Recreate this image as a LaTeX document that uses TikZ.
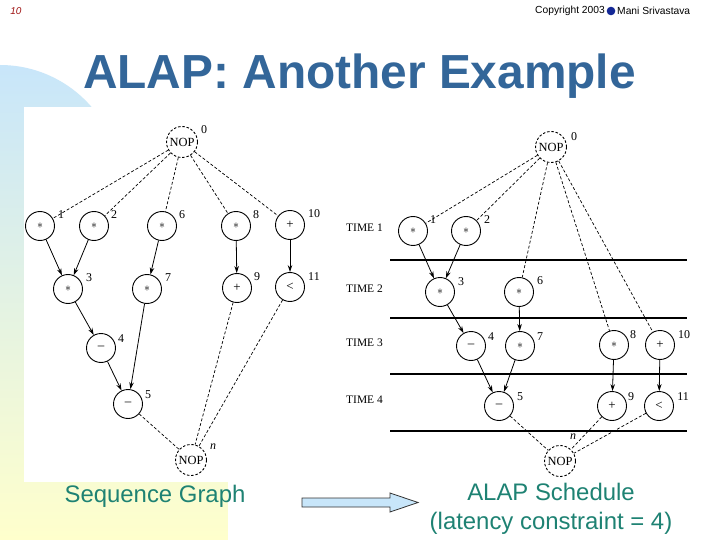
\documentclass[tikz,border=0pt]{standalone}
\usepackage{fontspec}
\setmainfont{Liberation Serif}
\newfontfamily\arialf{Liberation Sans}
\usetikzlibrary{arrows.meta}
\definecolor{titleblue}{RGB}{51,102,153}
\definecolor{seqteal}{RGB}{30,130,115}
\definecolor{bgblue}{RGB}{200,230,250}
\definecolor{bgyellow}{RGB}{255,255,204}
\definecolor{pagenum}{RGB}{160,20,20}
\definecolor{dotblue}{RGB}{20,40,150}
\definecolor{arrowfill}{RGB}{200,230,250}
\tikzset{
  opnode/.style={circle, draw, line width=0.9bp, minimum size=29bp, inner sep=0pt, font=\fontsize{13}{13}\selectfont},
  nopnode/.style={opnode, minimum size=31bp, dash pattern=on 2.5bp off 1.8bp, font=\fontsize{12.5}{12.5}\selectfont},
  numlab/.style={inner sep=0pt, font=\fontsize{12}{12}\selectfont},
  timelab/.style={inner sep=0pt, anchor=west, font=\fontsize{11.5}{11.5}\selectfont},
  dep/.style={-{Stealth[length=7bp,width=4.5bp]}, line width=0.8bp},
  dsh/.style={dash pattern=on 3bp off 2bp, line width=0.7bp},
  timeline/.style={line width=1.4bp},
}
\begin{document}
\begin{tikzpicture}[x=1bp,y=-1bp]
\useasboundingbox (0,0) rectangle (720,540);
\fill[white] (0,0) rectangle (720,540);
% background panel
\shade[top color=bgblue, bottom color=bgyellow] (0,540) -- (0,65) .. controls (66.8,65) and (121,119.2) .. (121,186) -- (228,186) -- (228,540) -- cycle;
\fill[white] (24,107) rectangle (332,482);

% header
\node[inner sep=0pt, text=pagenum, font=\arialf\itshape\fontsize{10}{10}\selectfont] (pnum) at (16,11) {10};
\node[inner sep=0pt, anchor=east, font=\arialf\fontsize{10.3}{10.3}\selectfont] (copyl) at (605,11) {Copyright 2003};
\fill[dotblue] (611,11) circle (4.3);
\node[inner sep=0pt, anchor=west, font=\arialf\fontsize{10.3}{10.3}\selectfont] (copyr) at (617,11) {Mani Srivastava};

% title
\node[inner sep=0pt, anchor=base, text=titleblue, font=\arialf\bfseries\fontsize{48}{48}\selectfont] (title) at (359.5,89) {ALAP: Another Example};

% ---------- left: sequence graph ----------
\node[nopnode] (a0) at (182,142) {NOP};
\node[opnode] (a1) at (40,226) {$\ast$};
\node[opnode] (a2) at (94,226) {$\ast$};
\node[opnode] (a6) at (162,226) {$\ast$};
\node[opnode] (a8) at (236,226) {$\ast$};
\node[opnode] (a10) at (290,225) {+};
\node[opnode] (a3) at (68,289) {$\ast$};
\node[opnode] (a7) at (147,289) {$\ast$};
\node[opnode] (a9) at (237,288) {+};
\node[opnode] (a11) at (290,287) {<};
\node[opnode] (a4) at (101,348) {--};
\node[opnode] (a5) at (128,404) {--};
\node[nopnode] (an) at (191,460) {NOP};

\node[numlab] (la0) at (204,130) {0};
\node[numlab] (la1) at (61,215) {1};
\node[numlab] (la2) at (114,215) {2};
\node[numlab] (la6) at (182,215) {6};
\node[numlab] (la8) at (256,215) {8};
\node[numlab] (la10) at (314,214) {10};
\node[numlab] (la3) at (89,278) {3};
\node[numlab] (la7) at (168,278) {7};
\node[numlab] (la9) at (257,277) {9};
\node[numlab] (la11) at (314,277) {11};
\node[numlab] (la4) at (121,339) {4};
\node[numlab] (la5) at (148,395) {5};
\node[numlab, font=\itshape\fontsize{12}{12}\selectfont] (lan) at (213,447) {n};

\foreach \t in {a1,a2,a6,a8,a10} \draw[dsh] (a0) -- (\t);
\draw[dep] (a1) -- (a3);
\draw[dep] (a2) -- (a3);
\draw[dep] (a6) -- (a7);
\draw[dep] (a8) -- (a9);
\draw[dep] (a10) -- (a11);
\draw[dep] (a3) -- (a4);
\draw[dep] (a4) -- (a5);
\draw[dep] (a7) -- (a5);
\foreach \t in {a5,a9,a11} \draw[dsh] (\t) -- (an);

% ---------- right: ALAP schedule ----------
\draw[timeline] (390,260) -- (687,260);
\draw[timeline] (390,318) -- (687,318);
\draw[timeline] (390,374) -- (687,374);
\draw[timeline] (390,431) -- (687,431);
\node[timelab] (t1) at (346,228) {TIME 1};
\node[timelab] (t2) at (346,289) {TIME 2};
\node[timelab] (t3) at (346,343) {TIME 3};
\node[timelab] (t4) at (346,400) {TIME 4};

\node[nopnode] (b0) at (551,147) {NOP};
\node[opnode] (b1) at (413,231) {$\ast$};
\node[opnode] (b2) at (466,231) {$\ast$};
\node[opnode] (b3) at (440,292) {$\ast$};
\node[opnode] (b6) at (519,292) {$\ast$};
\node[opnode] (b4) at (471,346) {--};
\node[opnode] (b7) at (520,346) {$\ast$};
\node[opnode] (b8) at (614,345) {$\ast$};
\node[opnode] (b10) at (660,345) {+};
\node[opnode] (b5) at (499,406) {--};
\node[opnode] (b9) at (612,406) {+};
\node[opnode] (b11) at (659,406) {<};
\node[nopnode] (bn) at (560,461) {NOP};

\node[numlab] (lb0) at (574,137) {0};
\node[numlab] (lb1) at (433,220) {1};
\node[numlab] (lb2) at (487,220) {2};
\node[numlab] (lb3) at (461,282) {3};
\node[numlab] (lb6) at (540,281) {6};
\node[numlab] (lb4) at (491,337) {4};
\node[numlab] (lb7) at (540,337) {7};
\node[numlab] (lb8) at (633,335) {8};
\node[numlab] (lb10) at (684,335) {10};
\node[numlab] (lb5) at (520,397) {5};
\node[numlab] (lb9) at (631,397) {9};
\node[numlab] (lb11) at (683,397) {11};
\node[numlab, font=\itshape\fontsize{12}{12}\selectfont] (lbn) at (573,437) {n};

\foreach \t in {b1,b2,b6,b8,b10} \draw[dsh] (b0) -- (\t);
\draw[dep] (b1) -- (b3);
\draw[dep] (b2) -- (b3);
\draw[dep] (b3) -- (b4);
\draw[dep] (b6) -- (b7);
\draw[dep] (b4) -- (b5);
\draw[dep] (b7) -- (b5);
\draw[dep] (b8) -- (b9);
\draw[dep] (b10) -- (b11);
\foreach \t in {b5,b9,b11} \draw[dsh] (\t) -- (bn);

% ---------- bottom captions ----------
\node[inner sep=0pt, text=seqteal, font=\arialf\fontsize{24}{24}\selectfont] (cap1) at (155,496) {Sequence Graph};
\node[inner sep=0pt, text=seqteal, align=center, font=\arialf\fontsize{24}{29}\selectfont] (cap2) at (551,509) {ALAP Schedule\\(latency constraint = 4)};
\draw[fill=arrowfill, draw=black!80, line width=0.8bp] (302,498) -- (390,498) -- (390,493) -- (418,502.5) -- (390,512) -- (390,507) -- (302,507) -- cycle;
\end{tikzpicture}
\end{document}
